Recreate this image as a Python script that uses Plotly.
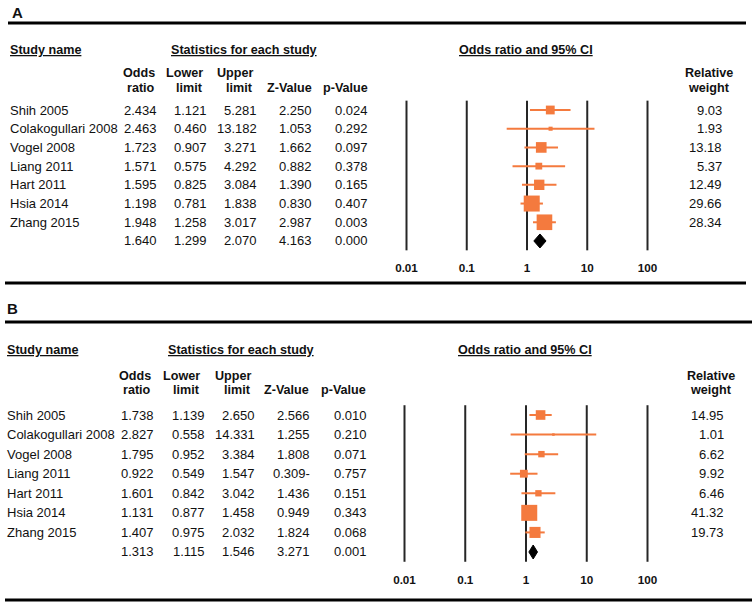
import plotly.graph_objects as go

# ---------------- data ----------------
studies = ["Shih 2005", "Colakogullari 2008", "Vogel 2008", "Liang 2011",
           "Hart 2011", "Hsia 2014", "Zhang 2015"]

a_or = [2.434, 2.463, 1.723, 1.571, 1.595, 1.198, 1.948]
a_lower = [1.121, 0.460, 0.907, 0.575, 0.825, 0.781, 1.258]
a_upper = [5.281, 13.182, 3.271, 4.292, 3.084, 1.838, 3.017]
a_z = [2.250, 1.053, 1.662, 0.882, 1.390, 0.830, 2.987]
a_p = [0.024, 0.292, 0.097, 0.378, 0.165, 0.407, 0.003]
a_weight = [9.03, 1.93, 13.18, 5.37, 12.49, 29.66, 28.34]
a_summary = [1.640, 1.299, 2.070, 4.163, 0.000]   # OR, lower, upper, Z, p

b_or = [1.738, 2.827, 1.795, 0.922, 1.601, 1.131, 1.407]
b_lower = [1.139, 0.558, 0.952, 0.549, 0.842, 0.877, 0.975]
b_upper = [2.650, 14.331, 3.384, 1.547, 3.042, 1.458, 2.032]
b_z = [2.566, 1.255, 1.808, -0.309, 1.436, 0.949, 1.824]
b_p = [0.010, 0.210, 0.071, 0.757, 0.151, 0.343, 0.068]
b_weight = [14.95, 1.01, 6.62, 9.92, 6.46, 41.32, 19.73]
b_summary = [1.313, 1.115, 1.546, 3.271, 0.001]

tick_vals = [0.01, 0.1, 1, 10, 100]
tick_labels = ["0.01", "0.1", "1", "10", "100"]

panel_labels = ["A", "B"]
col_headers = [("Odds", "ratio"), ("Lower", "limit"), ("Upper", "limit"),
               ("", "Z-Value"), ("", "p-Value")]

# ---------------- geometry / style ----------------
W, H = 755, 602
FONT = "Liberation Sans, Arial, sans-serif"
ORANGE = "#F47A3E"
TXT = "#111111"


def px(x):
    return x / W


def py(y):
    return 1 - y / H


panels = [
    dict(label=panel_labels[0], or_=a_or, lo=a_lower, up=a_upper, z=a_z, p=a_p,
         w=a_weight, summ=a_summary,
         label_xy=(12, 13), top=(23, 8, 746), bottom=(283, 5, 746),
         head_y=50, h1=73, h2=88, row0=110, step=18.71,
         one_px=527, decade=60.25, tick_y=259, name_x=10,
         col_r=[157, 207, 257, 312, 368], hdr_r=[155, 203, 253, 312, 368],
         w_r=722, w_hdr=709, stats_x=171, ci_x=459,
         dom_y=(0, 295)),
    dict(label=panel_labels[1], or_=b_or, lo=b_lower, up=b_upper, z=b_z, p=b_p,
         w=b_weight, summ=b_summary,
         label_xy=(7, 308), top=(322, 5, 752), bottom=(600, 5, 752),
         head_y=350, h1=376, h2=390, row0=415, step=19.57,
         one_px=526, decade=60.75, tick_y=571, name_x=7,
         col_r=[154, 205, 255, 310, 367], hdr_r=[151, 200, 251, 309, 366],
         w_r=724, w_hdr=711, stats_x=168, ci_x=458,
         dom_y=(295, 602)),
]

fig = go.Figure()
annotations = []
shapes = []


def fmt_num(v, nd=3):
    s = f"{abs(v):.{nd}f}"
    return s + "-" if v < 0 else s


for i, P in enumerate(panels):
    xa = "x" if i == 0 else "x2"
    ya = "y" if i == 0 else "y2"
    xa_key = "xaxis" if i == 0 else "xaxis2"
    ya_key = "yaxis" if i == 0 else "yaxis2"

    # axes
    xd0, xd1 = 380, 680
    xr = [(xd0 - P["one_px"]) / P["decade"], (xd1 - P["one_px"]) / P["decade"]]
    yd0, yd1 = P["dom_y"]
    yr = [(yd1 - P["row0"]) / P["step"], (yd0 - P["row0"]) / P["step"]]
    fig.update_layout(**{
        xa_key: dict(domain=[px(xd0), px(xd1)], type="log", range=xr,
                     anchor="free", position=py(P["tick_y"]),
                     showgrid=False, zeroline=False, showline=False, ticks="",
                     tickvals=tick_vals, ticktext=tick_labels,
                     tickfont=dict(family=FONT, size=11.7, color=TXT, weight="bold"),
                     fixedrange=True),
        ya_key: dict(domain=[py(yd1), py(yd0)], range=yr, visible=False,
                     anchor=xa, fixedrange=True),
    })

    n = len(studies)
    rows = list(range(n))

    # vertical reference lines
    vx, vy = [], []
    for t in tick_vals:
        vx += [t, t, None]
        vy += [-0.5, n + 0.5, None]
    fig.add_trace(go.Scatter(x=vx, y=vy, mode="lines", xaxis=xa, yaxis=ya,
                             line=dict(color="#262626", width=2),
                             hoverinfo="skip", showlegend=False))

    # study squares with CI
    wmax = max(P["w"])
    sizes = [16 * (w / wmax) ** 0.5 for w in P["w"]]
    fig.add_trace(go.Scatter(
        x=P["or_"], y=rows, mode="markers", xaxis=xa, yaxis=ya,
        marker=dict(symbol="square", size=sizes, color=ORANGE, opacity=1,
                    line=dict(width=0)),
        error_x=dict(type="data", symmetric=False,
                     array=[u - o for u, o in zip(P["up"], P["or_"])],
                     arrayminus=[o - l for o, l in zip(P["or_"], P["lo"])],
                     color=ORANGE, thickness=2, width=0),
        showlegend=False, hoverinfo="skip"))

    # summary diamond
    s_or, s_lo, s_up = P["summ"][0], P["summ"][1], P["summ"][2]
    hh = 7 / P["step"]
    fig.add_trace(go.Scatter(
        x=[s_lo, s_or, s_up, s_or, s_lo], y=[n, n - hh, n, n + hh, n],
        mode="lines", fill="toself", fillcolor="black",
        line=dict(color="black", width=1), xaxis=xa, yaxis=ya,
        showlegend=False, hoverinfo="skip"))

    # thick rules
    for (yy, x0, x1) in (P["top"], P["bottom"]):
        shapes.append(dict(type="line", xref="paper", yref="paper",
                           x0=px(x0), x1=px(x1), y0=py(yy), y1=py(yy),
                           line=dict(color="black", width=3)))

    def ann(text, x, y, xanchor="left", yref="paper", bold=False, size=13):
        annotations.append(dict(
            text=text, x=x, y=y, xref="paper", yref=yref, xanchor=xanchor,
            yanchor="middle", showarrow=False, borderpad=0, borderwidth=0,
            font=dict(family=FONT, size=size, color=TXT,
                      weight="bold" if bold else "normal")))

    # panel label
    ann(P["label"], px(P["label_xy"][0]), py(P["label_xy"][1]), bold=True, size=15)

    # section headings
    ann("<u>Study name</u>", px(P["name_x"]), py(P["head_y"]), bold=True, size=12.6)
    ann("<u>Statistics for each study</u>", px(P["stats_x"]), py(P["head_y"]),
        bold=True, size=12.6)
    ann("<u>Odds ratio and 95% CI</u>", px(P["ci_x"]), py(P["head_y"]),
        bold=True, size=12.6)

    # column headers
    for (t1, t2), xr_ in zip(col_headers, P["hdr_r"]):
        if t1:
            ann(t1, px(xr_), py(P["h1"]), xanchor="right", bold=True, size=12.6)
        ann(t2, px(xr_), py(P["h2"]), xanchor="right", bold=True, size=12.6)
    ann("Relative", px(P["w_hdr"]), py(P["h1"]), xanchor="center", bold=True, size=12.6)
    ann("weight", px(P["w_hdr"]), py(P["h2"]), xanchor="center", bold=True, size=12.6)

    # table rows
    for r in rows:
        ann(studies[r], px(P["name_x"]), r, yref=ya)
        vals = [P["or_"][r], P["lo"][r], P["up"][r], P["z"][r], P["p"][r]]
        for v, xr_ in zip(vals, P["col_r"]):
            ann(fmt_num(v), px(xr_), r, xanchor="right", yref=ya)
        ann(f"{P['w'][r]:.2f}", px(P["w_r"]), r, xanchor="right", yref=ya)
    for v, xr_ in zip(P["summ"], P["col_r"]):
        ann(fmt_num(v), px(xr_), n, xanchor="right", yref=ya)

fig.update_layout(
    width=W, height=H, autosize=False,
    margin=dict(l=0, r=0, t=0, b=0),
    paper_bgcolor="white", plot_bgcolor="white",
    showlegend=False,
    annotations=annotations, shapes=shapes,
    font=dict(family=FONT, color=TXT),
)

fig.write_html("out.html", config={"displayModeBar": False},
               post_script="document.body.style.margin='0';"
                           "document.body.style.overflow='hidden';")
